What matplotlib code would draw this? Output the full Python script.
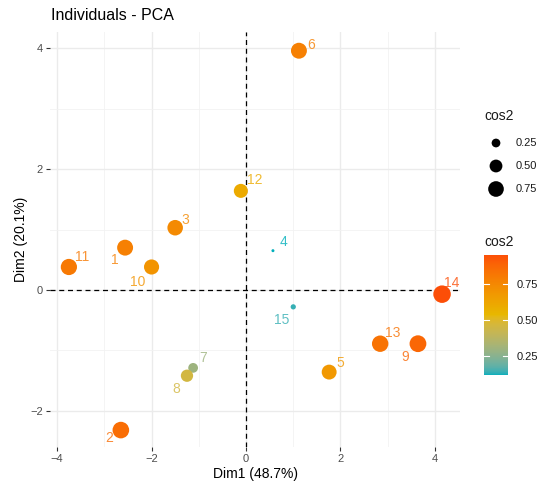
import numpy as np
import matplotlib
matplotlib.use("Agg")
import matplotlib.pyplot as plt
from matplotlib.colors import ListedColormap, to_rgb

plt.rcParams['font.family'] = ['Liberation Sans', 'DejaVu Sans']

# individuals on the first two dimensions
labels = ["1", "2", "3", "4", "5", "6", "7", "8", "9", "10", "11", "12", "13", "14", "15"]
dim1 = [-2.56, -2.65, -1.50, 0.57, 1.76, 1.12, -1.12, -1.25, 3.64, -2.00, -3.75, -0.11, 2.84, 4.15, 1.00]
dim2 = [0.70, -2.32, 1.03, 0.65, -1.36, 3.96, -1.29, -1.42, -0.89, 0.38, 0.38, 1.64, -0.89, -0.07, -0.28]
cos2 = [0.78, 0.85, 0.74, 0.12, 0.68, 0.78, 0.30, 0.46, 0.87, 0.70, 0.81, 0.60, 0.83, 0.95, 0.14]
size_breaks = [0.25, 0.50, 0.75]
xticks = [-4, -2, 0, 2, 4]
yticks = [-2, 0, 2, 4]
grad_colors = ["#00AFBB", "#E7B800", "#FC4E07"]

# label offsets (pixels, screen y up) mimicking ggrepel
label_dx = [-10, -12, 10, 11, 11, 12, 10, -11, -13, -14, 13, 14, 13, 10, -12]
label_dy = [-12, -8, 8, 9, 9, 6, 10, -13, -13, -15, 10, 11, 11, 11, -13]

W, H, DPI = 550, 496, 100

# gradient interpolated in CIELAB like ggplot's scale_color_gradientn
M = np.array([[0.4124, 0.3576, 0.1805], [0.2126, 0.7152, 0.0722], [0.0193, 0.1192, 0.9505]])
WHITE = np.array([0.95047, 1.0, 1.08883])


def to_lab(c):
    c = np.asarray(c)
    lin = np.where(c <= 0.04045, c / 12.92, ((c + 0.055) / 1.055) ** 2.4)
    xyz = M @ lin / WHITE
    f = np.where(xyz > 0.008856, np.cbrt(xyz), 7.787 * xyz + 16 / 116)
    return np.array([116 * f[1] - 16, 500 * (f[0] - f[1]), 200 * (f[1] - f[2])])


def from_lab(lab):
    fy = (lab[0] + 16) / 116
    f = np.array([fy + lab[1] / 500, fy, fy - lab[2] / 200])
    xyz = np.where(f ** 3 > 0.008856, f ** 3, (f - 16 / 116) / 7.787) * WHITE
    lin = np.linalg.solve(M, xyz)
    c = np.where(lin <= 0.0031308, 12.92 * lin, 1.055 * np.abs(lin) ** (1 / 2.4) - 0.055)
    return np.clip(c, 0, 1)


stops = [to_lab(to_rgb(c)) for c in grad_colors]
ramp = []
for t in np.linspace(0, 1, 256):
    seg = min(int(t * 2), 1)
    u = t * 2 - seg
    ramp.append(from_lab(stops[seg] * (1 - u) + stops[seg + 1] * u))
cmap = ListedColormap(ramp)
cmin, cmax = min(cos2), max(cos2)


def diam_px(v):
    r = (np.asarray(v) - cmin) / (cmax - cmin)
    return 3 + np.sqrt(np.clip(r, 0, 1)) * 14.5


def s_of(v):
    return (diam_px(v) * 72 / DPI) ** 2


fig = plt.figure(figsize=(W / DPI, H / DPI), dpi=DPI)
ax = fig.add_axes([50 / W, 1 - 447 / H, 410 / W, 415 / H])

ax.set_xlim(-4.15, 4.53)
ax.set_ylim(-2.6, 4.27)
ax.set_xticks(xticks)
ax.set_yticks(yticks)
ax.set_xticks([-3, -1, 1, 3], minor=True)
ax.set_yticks([-1, 1, 3], minor=True)
ax.grid(True, which='major', color='#EBEBEB', lw=1.0)
ax.grid(True, which='minor', color='#F2F2F2', lw=0.6)
ax.set_axisbelow(True)
for sp in ax.spines.values():
    sp.set_visible(False)
ax.tick_params(which='major', length=3, width=0.8, color='#333333', labelsize=8,
               labelcolor='#4D4D4D', pad=2)
ax.tick_params(which='minor', length=0)

ax.axhline(0, color='black', ls=(0, (4, 3)), lw=0.9, zorder=1)
ax.axvline(0, color='black', ls=(0, (4, 3)), lw=0.9, zorder=1)

sc = ax.scatter(dim1, dim2, c=cos2, cmap=cmap, vmin=cmin, vmax=cmax, s=s_of(cos2),
                edgecolors='none', zorder=3)
for i, lab in enumerate(labels):
    ax.annotate(lab, (dim1[i], dim2[i]), xytext=(label_dx[i] * 0.72, label_dy[i] * 0.72),
                textcoords='offset points', ha='center', va='center', fontsize=10,
                color=cmap((cos2[i] - cmin) / (cmax - cmin)), alpha=0.8, zorder=4)

ax.set_xlabel("Dim1 (48.7%)", fontsize=10, labelpad=2)
ax.set_ylabel("Dim2 (20.1%)", fontsize=10, labelpad=2)
fig.text(51 / W, 1 - 16 / H, "Individuals - PCA", fontsize=11.5, ha='left', va='center')

# size legend
lax = fig.add_axes([0, 0, 1, 1])
lax.set_xlim(0, W)
lax.set_ylim(H, 0)
lax.axis('off')
lax.text(484, 116, "cos2", fontsize=10, ha='left', va='center', color='#1A1A1A')
for k, b in enumerate(size_breaks):
    yy = 143 + k * 23
    lax.scatter([496], [yy], s=s_of(b), color='black', edgecolors='none')
    lax.text(516, yy, f"{b:.2f}", fontsize=8, ha='left', va='center', color='#1A1A1A')

# colour bar
lax.text(484, 242, "cos2", fontsize=10, ha='left', va='center', color='#1A1A1A')
cax = fig.add_axes([484 / W, 1 - 375 / H, 24 / W, 120 / H])
cb = fig.colorbar(sc, cax=cax, ticks=size_breaks)
cb.outline.set_visible(False)
cax.tick_params(length=0, labelsize=8, labelcolor='#1A1A1A', pad=6)
cax.set_yticklabels([f"{b:.2f}" for b in size_breaks])
for b in size_breaks:
    cax.plot([0, 0.2], [b, b], color='white', lw=0.8, transform=cax.get_yaxis_transform())
    cax.plot([0.8, 1], [b, b], color='white', lw=0.8, transform=cax.get_yaxis_transform())

fig.savefig("out.png", dpi=DPI)
